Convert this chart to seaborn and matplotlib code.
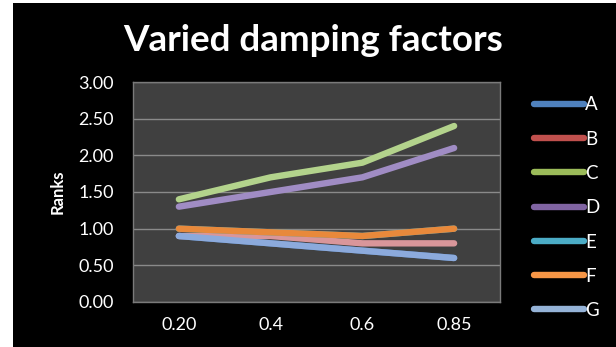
import matplotlib
matplotlib.use("Agg")
import matplotlib.pyplot as plt
from matplotlib.lines import Line2D
from matplotlib.patches import Rectangle
import seaborn as sns
import pandas as pd

# Damping factors (categories) and average ranks per series
damping = ["0.20", "0.4", "0.6", "0.85"]
series_names = ["A", "B", "C", "D", "E", "F", "G"]
rank_a = [0.9, 0.8, 0.7, 0.6]
rank_b = [0.9, 0.9, 0.8, 0.8]
rank_c = [1.4, 1.7, 1.9, 2.4]
rank_d = [1.3, 1.5, 1.7, 2.1]
rank_e = [1.0, 0.95, 0.9, 1.0]
rank_f = [1.0, 0.95, 0.9, 1.0]
rank_g = [0.9, 0.8, 0.7, 0.6]
y_ticks = [0.0, 0.5, 1.0, 1.5, 2.0, 2.5, 3.0]

all_ranks = [rank_a, rank_b, rank_c, rank_d, rank_e, rank_f, rank_g]

# legend swatch colours and the softer tint used for the plotted lines
legend_colors = ["#4F81BD", "#C0504D", "#9BBB59", "#8064A2", "#4BACC6", "#F79646", "#95B3D7"]
line_colors = ["#4F81BD", "#D9969A", "#B3D38C", "#A08CC4", "#4BACC6", "#E8893B", "#8CAADC"]

rows = []
for name, vals in zip(series_names, all_ranks):
    for i, (d, v) in enumerate(zip(damping, vals)):
        rows.append({"series": name, "pos": i, "damping": d, "rank": v})
df = pd.DataFrame(rows)

sns.set_theme(style="dark")
plt.rcParams["font.family"] = ["Lato", "DejaVu Sans"]

fig = plt.figure(figsize=(6.16, 3.47), dpi=100, facecolor="white")
# black chart area with a thin white margin at left/top
fig.patches.append(Rectangle((13 / 616, 0), 1 - 13 / 616, 1 - 3 / 347,
                             transform=fig.transFigure, facecolor="black",
                             edgecolor="none", zorder=-10))

ax = fig.add_axes([133 / 616, 1 - 302 / 347, 367 / 616, 220 / 347])
ax.set_facecolor("#404040")

sns.lineplot(data=df, x="pos", y="rank", hue="series", hue_order=series_names,
             palette=dict(zip(series_names, line_colors)), linewidth=4.6,
             legend=False, ax=ax, solid_capstyle="round", solid_joinstyle="round")

ax.set_xlim(-0.5, 3.5)
ax.set_ylim(0, 3.0)
ax.set_xticks(range(len(damping)))
ax.set_xticklabels(damping)
ax.set_yticks(y_ticks)
ax.set_yticklabels([f"{t:.2f}" for t in y_ticks])
ax.tick_params(axis="both", colors="white", labelsize=13, length=0)
ax.tick_params(axis="x", pad=11)
ax.tick_params(axis="y", pad=14)
ax.grid(axis="y", color="#8a8a8a", linewidth=1.0)
ax.grid(axis="x", visible=False)
ax.set_axisbelow(True)
for s in ax.spines.values():
    s.set_visible(True)
    s.set_color("#7a7a7a")
    s.set_linewidth(1.0)

ax.set_xlabel("")
ax.set_ylabel("Ranks", color="white", fontsize=12, fontweight="bold", labelpad=9)

fig.text(0.508, 0.882, "Varied damping factors", color="white", fontsize=26.5,
         fontweight="bold", ha="center", va="center")

handles = [Line2D([0], [0], color=c, linewidth=4.6, solid_capstyle="round")
           for c in legend_colors]
leg = fig.legend(handles, series_names, loc="upper left",
                 bbox_to_anchor=(526 / 616, 1 - 89 / 347), frameon=False,
                 handlelength=2.7, handletextpad=0.05, labelspacing=0.92,
                 fontsize=13.5, borderaxespad=0)
for t in leg.get_texts():
    t.set_color("white")

fig.savefig("out.png", dpi=100, facecolor=fig.get_facecolor())
